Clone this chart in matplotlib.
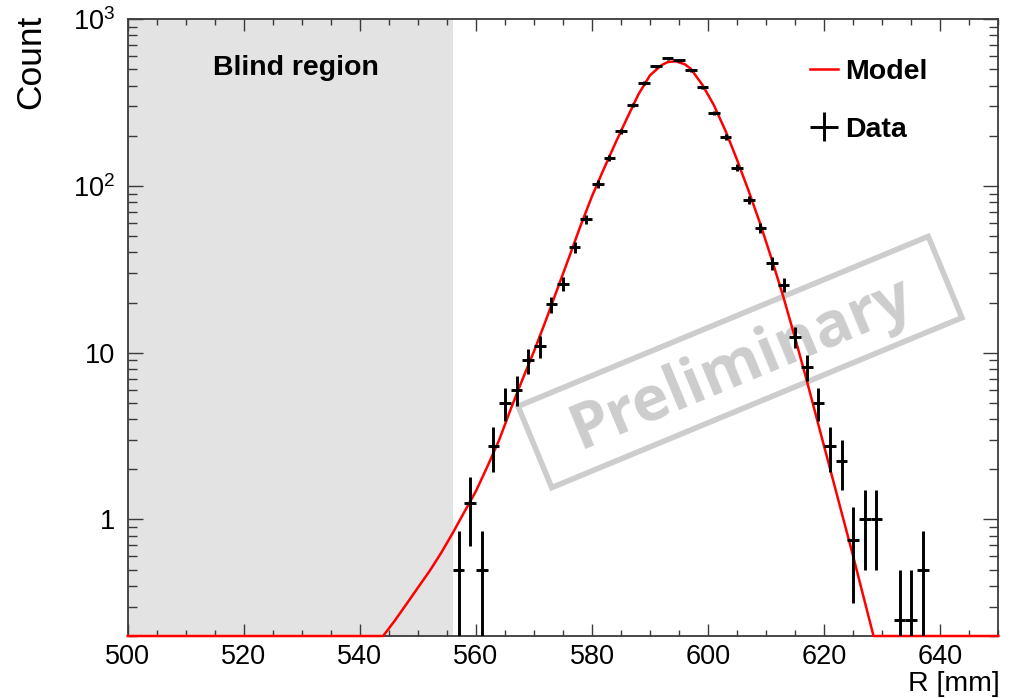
import matplotlib
matplotlib.use("Agg")
import matplotlib.pyplot as plt
import numpy as np
from matplotlib.lines import Line2D
from matplotlib.patches import Rectangle
from matplotlib.transforms import Affine2D, IdentityTransform
from matplotlib.ticker import MultipleLocator, LogLocator, FixedLocator, FixedFormatter, NullFormatter

plt.rcParams['font.family'] = ['Liberation Sans', 'DejaVu Sans']
plt.rcParams['mathtext.default'] = 'regular'

# ---- data (bin centres in mm, weighted counts) ----
data_r = [557, 559, 561, 563, 565, 567, 569, 571, 573, 575, 577, 579, 581, 583, 585,
          587, 589, 591, 593, 595, 597, 599, 601, 603, 605, 607, 609, 611, 613, 615,
          617, 619, 621, 623, 625, 627, 629, 633, 635, 637]
data_n = [0.5, 1.25, 0.5, 2.75, 5.0, 6.0, 9.0, 11.0, 19.5, 26.0, 43.0, 63.0, 103, 148, 213,
          307, 414, 521, 584, 566, 493, 390, 274, 197, 129, 82, 56, 34.5, 25.5, 12.5,
          8.25, 5.0, 2.75, 2.25, 0.75, 1.0, 1.0, 0.25, 0.25, 0.5]
data_err = [0.354, 0.559, 0.354, 0.829, 1.118, 1.225, 1.5, 1.658, 2.208, 2.55, 3.28, 3.97, 5.07, 6.08, 7.30,
            8.76, 10.2, 11.4, 12.1, 11.9, 11.1, 9.87, 8.28, 7.02, 5.68, 4.53, 3.74, 2.94, 2.52, 1.77,
            1.44, 1.118, 0.829, 0.75, 0.433, 0.5, 0.5, 0.25, 0.25, 0.354]
bin_half = 1.0

# ---- model curve ----
model_r = [500, 544, 546, 548, 550, 552, 554, 556, 558, 560, 562, 564, 566, 568, 570, 572,
           574, 576, 578, 580, 582, 584, 586, 588, 590, 592, 593, 594.4, 596, 597, 599,
           601, 603, 605, 607, 609, 611, 613, 615, 617, 619, 621, 623, 625, 627, 628.5, 650]
model_y = [0.2, 0.2, 0.247, 0.31, 0.39, 0.49, 0.63, 0.83, 1.11, 1.48, 2.09, 3.0, 4.6, 6.9, 10.2, 15.5,
           24, 37, 57.5, 87, 126, 180, 254, 355, 462, 531, 553, 560, 537, 505, 405,
           305, 214, 143, 93, 59, 36, 21.4, 12.2, 6.8, 3.7, 2.02, 1.10, 0.60, 0.32, 0.2, 0.2]

blind_lo, blind_hi = 500, 556
xmin, xmax = 500, 650
ymin, ymax = 0.2, 1000
ytick_vals = [1, 10, 100, 1000]
ytick_labels = ['1', '10', r'$10^{2}$', r'$10^{3}$']

fig = plt.figure(figsize=(10.12, 6.98), dpi=100)
ax = fig.add_axes([0.1262, 0.0888, 0.8603, 0.8836])
ax.set_facecolor('none')

ax.axvspan(blind_lo, blind_hi, color='#e3e3e3', zorder=0, lw=0)

# Preliminary stamp (pixel coordinates of the stamp on the canvas)
cx, cy = 740, 698 - 362
ang = 22.5
rect = Rectangle((-222, -44), 444, 88, fill=False, ec='#cdcdcd', lw=4.0,
                 transform=Affine2D().rotate_deg(ang).translate(cx, cy), zorder=1)
ax.add_artist(rect)
ax.text(cx + 2, cy - 2, 'Preliminary', transform=IdentityTransform(), rotation=ang,
        rotation_mode='anchor', ha='center', va='center', fontsize=45,
        fontweight='bold', color='#cdcdcd', family=['Open Sans', 'DejaVu Sans'], zorder=1)

ym = np.clip(np.array(model_y), ymin, None)
ax.plot(model_r, ym, color='red', lw=1.8, zorder=3, label='Model', clip_on=False)
eb = ax.errorbar(data_r, data_n, yerr=data_err, xerr=bin_half, fmt='none', ecolor='black',
                 elinewidth=2.1, capsize=0, zorder=4, label='Data')

ax.set_xlim(xmin, xmax)
ax.set_yscale('log')
ax.set_ylim(ymin, ymax)

ax.xaxis.set_major_locator(MultipleLocator(20))
ax.xaxis.set_minor_locator(MultipleLocator(5))
ax.yaxis.set_major_locator(FixedLocator(ytick_vals))
ax.yaxis.set_major_formatter(FixedFormatter(ytick_labels))
ax.yaxis.set_minor_locator(LogLocator(base=10, subs=np.arange(2, 10)))
ax.yaxis.set_minor_formatter(NullFormatter())

fc = '#3a3a3a'
for s in ax.spines.values():
    s.set_color(fc)
    s.set_linewidth(1.3)
ax.tick_params(which='both', direction='in', top=True, right=True, color=fc, width=1.0,
               labelsize=19.5, labelcolor='black')
ax.tick_params(axis='x', which='major', length=8.6, pad=6)
ax.tick_params(axis='x', which='minor', length=4.0)
ax.tick_params(axis='y', which='major', length=11, pad=9)
ax.tick_params(axis='y', which='minor', length=6.5)

ax.set_ylabel('Count', fontsize=25.5)
ax.yaxis.label.set_ha('right')
ax.yaxis.label.set_va('center')
ax.yaxis.set_label_coords(-0.111, 1.007)
ax.set_xlabel('R [mm]', fontsize=20.5)
ax.xaxis.label.set_ha('right')
ax.xaxis.label.set_va('center')
ax.xaxis.set_label_coords(1.002, -0.078)

ax.text(0.193, 0.921, 'Blind region', transform=ax.transAxes, ha='center', va='center',
        fontsize=20.5, fontweight='bold')

h_model = Line2D([], [], color='red', lw=1.8)
leg = ax.legend([h_model, eb], ['Model', 'Data'], loc='upper left',
                bbox_to_anchor=(0.7837, 0.936), frameon=False, handlelength=1.0,
                handletextpad=0.25, labelspacing=1.12, borderpad=0, borderaxespad=0,
                prop={'size': 20.5, 'weight': 'bold'})

fig.savefig('out.png', dpi=100)
